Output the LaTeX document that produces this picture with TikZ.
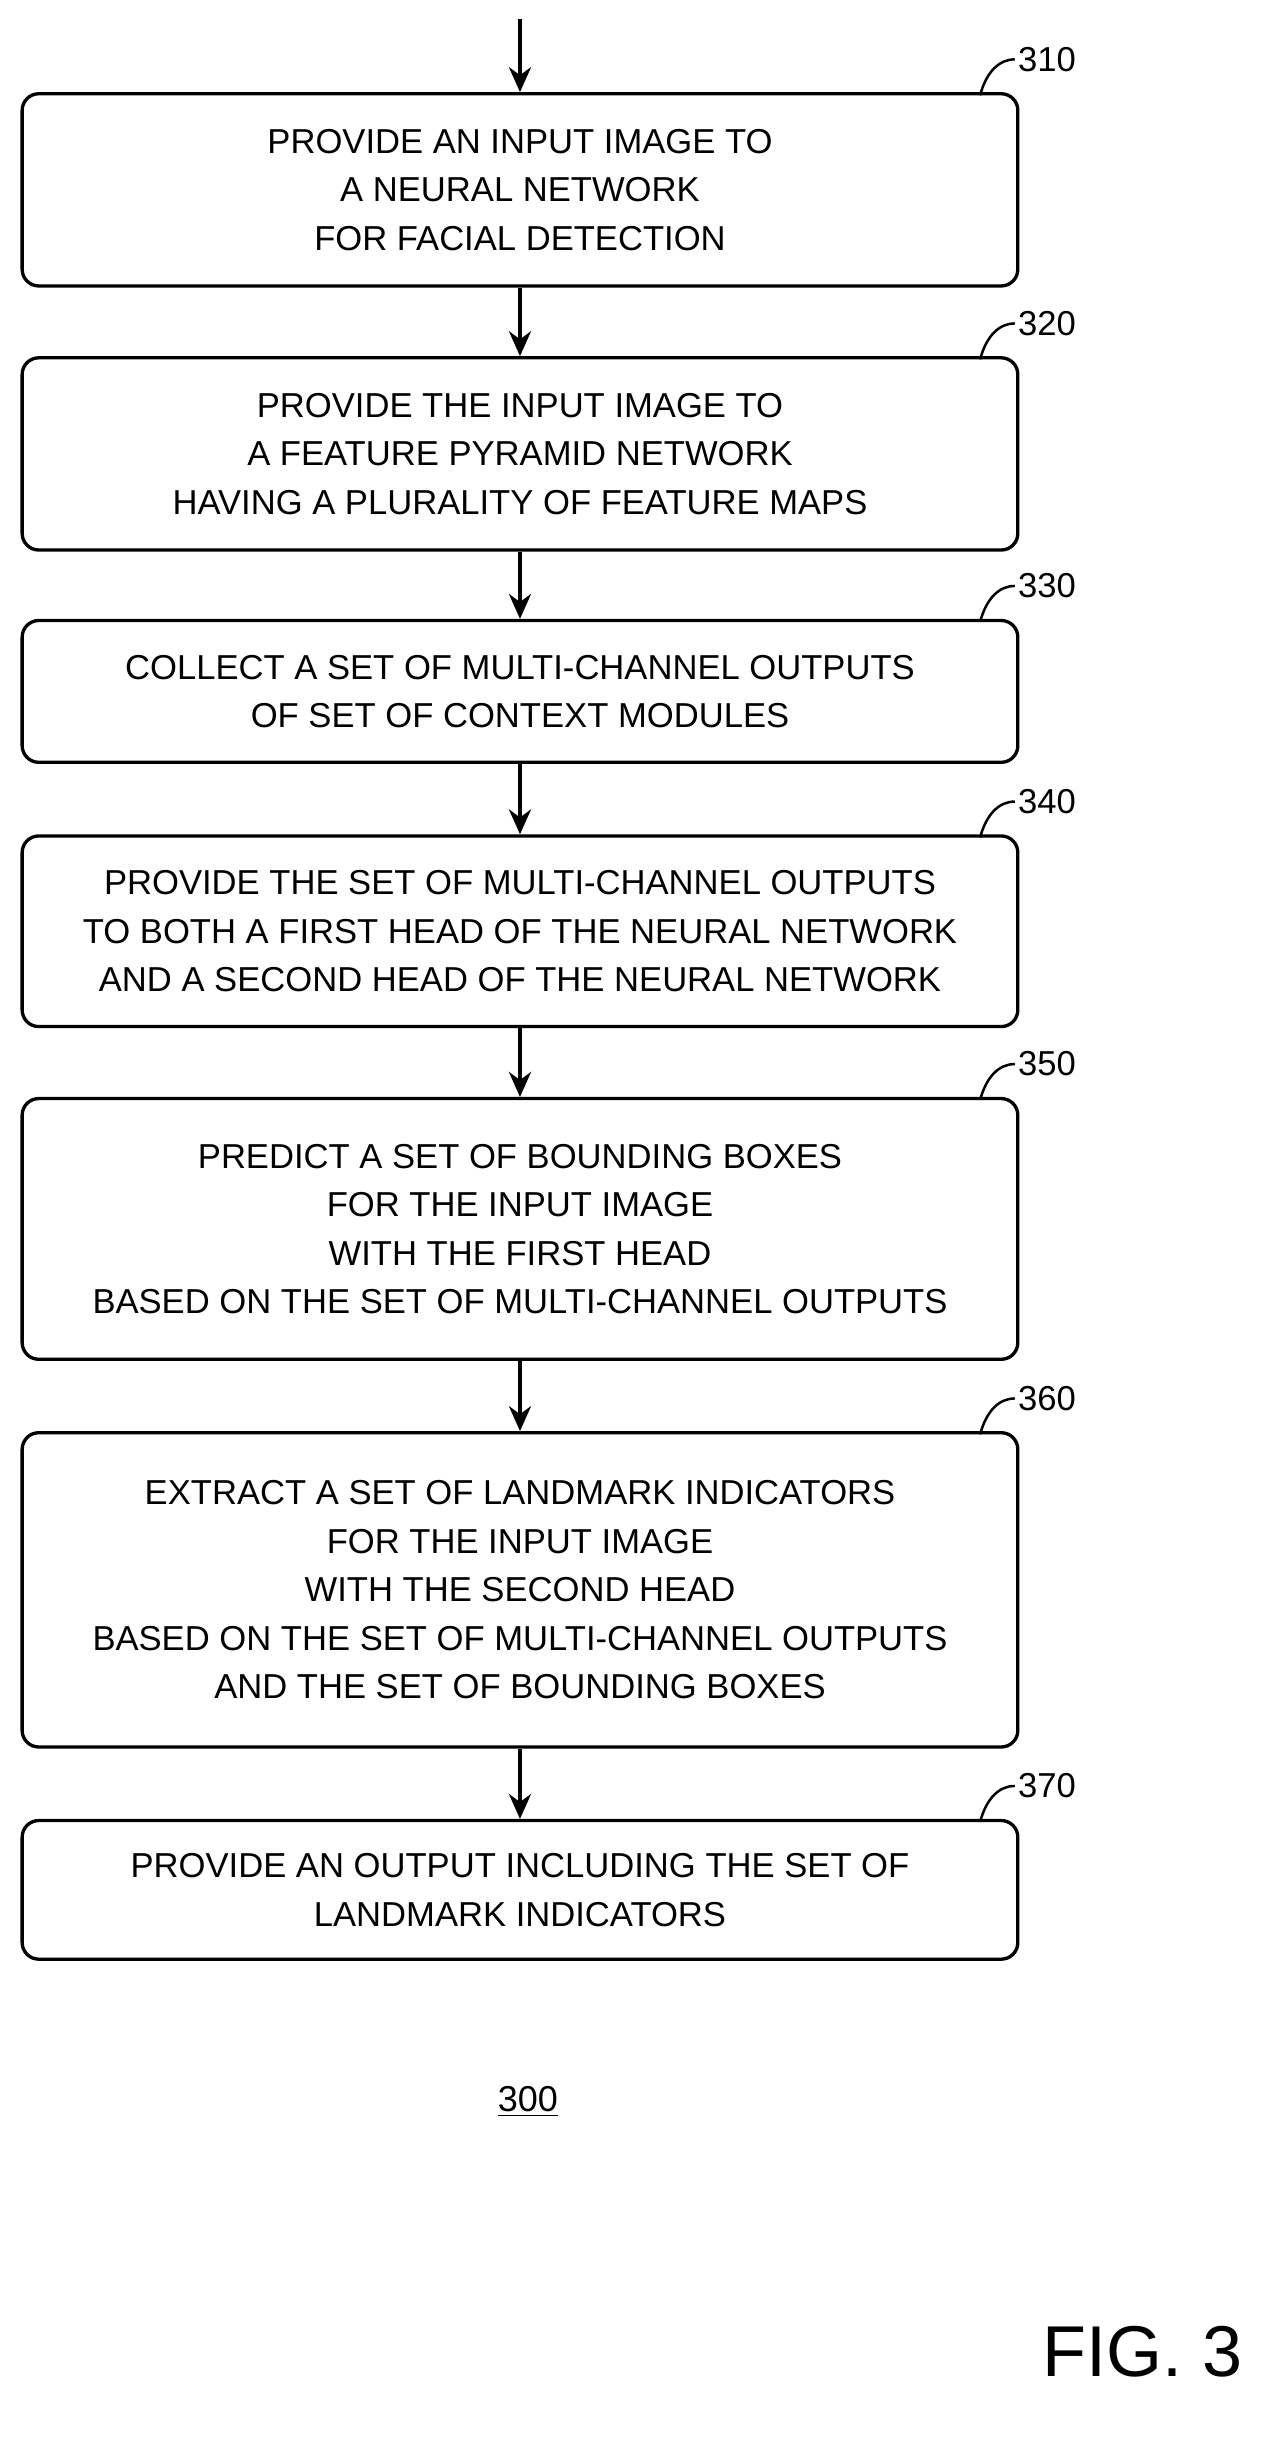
\documentclass[tikz,border=0pt]{standalone}
\usepackage{fontspec}
\setmainfont{Liberation Sans}
\usetikzlibrary{arrows.meta}
\begin{document}
\begin{tikzpicture}[
        x=0.02cm, y=-0.01984cm,
        flowstep/.style={rectangle, draw=black, line width=1.2pt, rounded corners=6pt, minimum width=12.64cm, align=center, font=\fontsize{12.5}{17.5}\selectfont, inner sep=0pt},
        arrow/.style={-{Stealth[length=9pt,width=8pt]}, line width=1.2pt},
        refnum/.style={font=\fontsize{12.5}{15}\selectfont, anchor=west, inner sep=1pt},
        leader/.style={line width=0.9pt}
    ]
    \useasboundingbox (0,0) rectangle (800,1568);

    % Steps
    \node (s310) at (330,121.5) [flowstep, minimum height=2.44cm] {PROVIDE AN INPUT IMAGE TO\\A NEURAL NETWORK\\FOR FACIAL DETECTION};
    \node (s320) at (330,290.5) [flowstep, minimum height=2.44cm] {PROVIDE THE INPUT IMAGE TO\\A FEATURE PYRAMID NETWORK\\HAVING A PLURALITY OF FEATURE MAPS};
    \node (s330) at (330,442.5) [flowstep, minimum height=1.80cm] {COLLECT A SET OF MULTI-CHANNEL OUTPUTS\\OF SET OF CONTEXT MODULES};
    \node (s340) at (330,596) [flowstep, minimum height=2.42cm] {PROVIDE THE SET OF MULTI-CHANNEL OUTPUTS\\TO BOTH A FIRST HEAD OF THE NEURAL NETWORK\\AND A SECOND HEAD OF THE NEURAL NETWORK};
    \node (s350) at (330,786.5) [flowstep, minimum height=3.31cm] {PREDICT A SET OF BOUNDING BOXES\\FOR THE INPUT IMAGE\\WITH THE FIRST HEAD\\BASED ON THE SET OF MULTI-CHANNEL OUTPUTS};
    \node (s360) at (330,1017.5) [flowstep, minimum height=3.99cm] {EXTRACT A SET OF LANDMARK INDICATORS\\FOR THE INPUT IMAGE\\WITH THE SECOND HEAD\\BASED ON THE SET OF MULTI-CHANNEL OUTPUTS\\AND THE SET OF BOUNDING BOXES};
    \node (s370) at (330,1209.5) [flowstep, minimum height=1.76cm] {PROVIDE AN OUTPUT INCLUDING THE SET OF\\LANDMARK INDICATORS};

    % Flow
    \coordinate (start) at (330,12);
    \draw[arrow] (start) -- (s310);
    \draw[arrow] (s310) -- (s320);
    \draw[arrow] (s320) -- (s330);
    \draw[arrow] (s330) -- (s340);
    \draw[arrow] (s340) -- (s350);
    \draw[arrow] (s350) -- (s360);
    \draw[arrow] (s360) -- (s370);

    % Reference numerals
    \foreach \n/\y in {310/60, 320/229, 330/397, 340/535, 350/703, 360/917, 370/1165} {
        \node (r\n) at (644,\y-22) [refnum] {\n};
        \draw[leader] (622,\y+1) .. controls (626,\y-14) and (634,\y-22) .. (r\n.west);
    }

    \node (fignum) at (335,1345) {\fontsize{13}{15}\selectfont\underline{300}};
    \node (figlabel) at (725,1505) {\fontsize{26}{30}\selectfont FIG. 3};
\end{tikzpicture}
\end{document}
